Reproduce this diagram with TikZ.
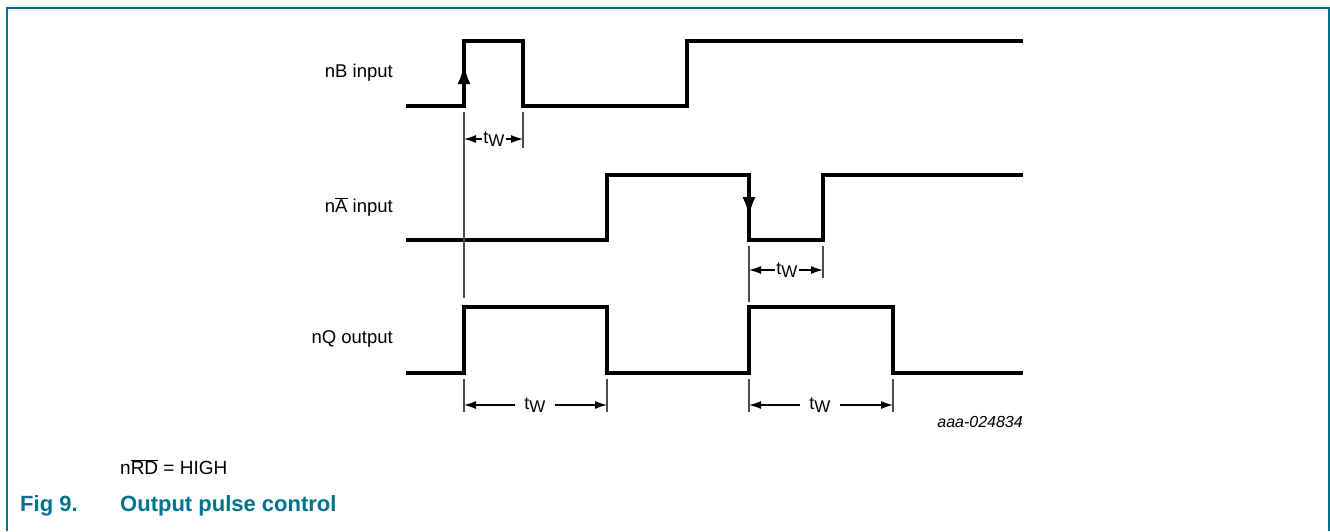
\documentclass[tikz,border=0pt]{standalone}
\usepackage{fontspec}
\setmainfont{Liberation Sans}
\usetikzlibrary{arrows.meta}
\definecolor{nxpteal}{RGB}{0,114,140}
\newcommand{\ovl}[1]{$\overline{\hbox{#1}}$}
\newcommand{\tw}{t\raisebox{-3pt}{\fontsize{17}{17}\selectfont W}}
\tikzset{
  wave/.style={line width=3.4pt, line join=miter},
  ext/.style={line width=1.1pt, draw=black!70},
  dim/.style={line width=1.2pt, -{Latex[length=12pt,width=8pt]}},
  edgearrow/.style={line width=3.4pt, -{Latex[length=20pt,width=13pt]}},
  lbl/.style={anchor=east, inner sep=0pt, font=\fontsize{18.5}{22}\selectfont},
  twl/.style={inner sep=1.5pt, fill=white, font=\fontsize{18}{20}\selectfont},
}
\begin{document}
\begin{tikzpicture}[x=1pt,y=-1pt]
\useasboundingbox (0,0) rectangle (1330,531);
% frame
\draw[nxpteal, line width=1.6pt] (7,531) -- (7,8) -- (1329,8) -- (1329,531);

% labels
\node[lbl] (lB) at (393,73) {nB input};
\node[lbl] (lA) at (393,207) {n\ovl{A} input};
\node[lbl] (lQ) at (393,339) {nQ output};

% nB waveform
\draw[wave] (406,106) -- (464,106) -- (464,41) -- (523,41) -- (523,106) -- (687,106) -- (687,41) -- (1023,41);
\draw[edgearrow] (464,100) -- (464,64);

% nA waveform
\draw[wave] (406,240) -- (607,240) -- (607,175) -- (749,175) -- (749,240) -- (823,240) -- (823,175) -- (1023,175);
\draw[edgearrow] (749,181) -- (749,217);

% nQ waveform
\draw[wave] (406,373) -- (464,373) -- (464,307) -- (607,307) -- (607,373) -- (749,373) -- (749,307) -- (893,307) -- (893,373) -- (1023,373);

% extension lines
\coordinate (eB1) at (464,139);
\coordinate (eB2) at (523,139);
\draw[ext] (464,112) -- (464,298);
\draw[ext] (523,112) -- (523,148);
\coordinate (eA1) at (749,270);
\coordinate (eA2) at (823,270);
\draw[ext] (749,246) -- (749,302);
\draw[ext] (823,246) -- (823,278);
\coordinate (eQ1) at (464,405);
\coordinate (eQ2) at (607,405);
\coordinate (eQ3) at (749,405);
\coordinate (eQ4) at (893,405);
\draw[ext] (464,379) -- (464,412);
\draw[ext] (607,379) -- (607,412);
\draw[ext] (749,379) -- (749,412);
\draw[ext] (893,379) -- (893,412);

% tw dimensions
\node[twl] (tB) at (494,139) {\tw};
\draw[dim] (tB.west |- eB1) -- (eB1);
\draw[dim] (tB.east |- eB2) -- (eB2);
\node[twl] (tA) at (787,270) {\tw};
\draw[dim] (tA.west |- eA1) -- (eA1);
\draw[dim] (tA.east |- eA2) -- (eA2);
\node[twl, inner xsep=9pt] (tQ1) at (535,405) {\tw};
\draw[dim] (tQ1.west |- eQ1) -- (eQ1);
\draw[dim] (tQ1.east |- eQ2) -- (eQ2);
\node[twl, inner xsep=9pt] (tQ2) at (820,405) {\tw};
\draw[dim] (tQ2.west |- eQ3) -- (eQ3);
\draw[dim] (tQ2.east |- eQ4) -- (eQ4);

% figure id
\node[anchor=east, inner sep=0pt, font=\fontsize{16}{18}\selectfont\itshape] (fid) at (1023,422) {aaa-024834};

% note and caption
\node[anchor=west, inner sep=0pt, font=\fontsize{19}{22}\selectfont] (note) at (120,467) {n\ovl{RD} = HIGH};
\node[anchor=west, inner sep=0pt, text=nxpteal, font=\fontsize{22}{26}\selectfont\bfseries] (fig) at (20,506) {Fig 9.};
\node[anchor=west, inner sep=0pt, text=nxpteal, font=\fontsize{22}{26}\selectfont\bfseries] (cap) at (120,506) {Output pulse control};
\end{tikzpicture}
\end{document}
